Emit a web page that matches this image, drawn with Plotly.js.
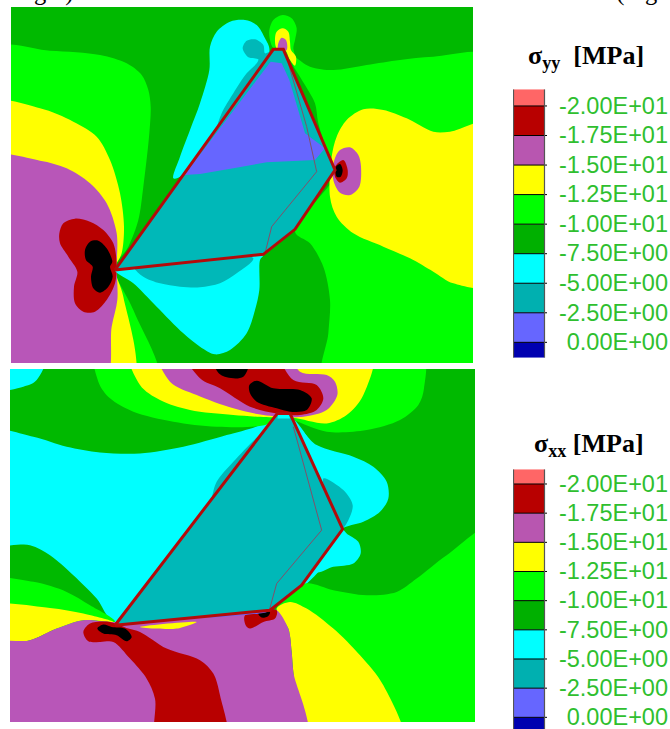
<!DOCTYPE html>
<html><head><meta charset="utf-8">
<script src="https://cdn.plot.ly/plotly-3.0.1.min.js"></script>
<style>html,body{margin:0;padding:0;background:#fff;overflow:hidden}</style>
</head><body><div id="c" style="width:670px;height:729px"></div>
<script>
const LIME='#00ff00',DARK='#00b900',YEL='#ffff00',PUR='#b856b8',RED='#b80000',BLK='#000000',CYA='#00ffff',TEAL='#00b8b8',BLUE='#6666ff';
// Panel 1: sigma_yy regions
const a_leftLime=[[33,150],[150,152],[300,165],[380,190],[425,225],[445,270],[452,320],[448,400],[430,560],[415,660],[385,740],[345,805],[400,930],[475,1089],[33,1089]];
const a_leftYel=[[33,312],[120,325],[220,365],[290,410],[330,480],[360,580],[372,680],[365,760],[345,805],[370,890],[395,1089],[33,1089]];
const a_leftPur=[[33,475],[120,482],[200,505],[270,550],[320,610],[350,700],[350,805],[352,900],[335,980],[310,1089],[33,1089]];
const a_leftRed=[[178,700],[190,670],[225,656],[270,665],[310,690],[340,730],[350,790],[345,850],[320,900],[285,935],[250,935],[225,910],[222,860],[232,815],[205,770],[180,730]];
const a_leftBlk=[[255,750],[270,725],[295,722],[320,745],[337,785],[330,800],[338,830],[325,860],[300,878],[280,865],[273,830],[278,800],[258,780]];
const a_rightLime=[[1419,175],[1300,170],[1200,180],[1100,195],[1000,210],[930,200],[885,170],[860,150],[870,180],[915,255],[945,310],[955,370],[990,480],[1008,520],[885,695],[930,730],[970,800],[990,900],[985,1000],[970,1089],[1419,1089]];
const a_topLime=[[808,90],[820,60],[848,45],[875,55],[890,85],[885,120],[880,145],[890,190],[860,170],[820,145],[810,120]];
const a_topYel=[[825,115],[830,95],[848,85],[865,95],[870,125],[873,150],[888,170],[885,197],[870,180],[855,150],[830,145]];
const a_topPur=[[835,130],[845,113],[858,120],[860,150],[835,150]];
const a_upCyan=[[630,140],[650,95],[690,65],[735,60],[770,75],[795,115],[808,155],[548,525],[520,535],[540,470],[570,390],[600,310],[628,210]];
const a_upTeal=[[728,145],[740,122],[765,118],[790,135],[795,160],[812,155],[650,390],[665,340],[700,280],[740,220],[770,190],[775,178],[745,172]];
const a_rightYel=[[990,590],[995,470],[1010,410],[1040,360],[1090,328],[1150,330],[1220,355],[1300,395],[1350,395],[1419,365],[1419,855],[1360,850],[1300,815],[1230,775],[1150,740],[1060,700],[1010,650]];
const a_rightPur=[[1003,480],[1020,450],[1050,442],[1075,465],[1083,500],[1078,560],[1050,585],[1020,578],[1000,540]];
const a_rightRed=[[1005,500],[1030,480],[1043,510],[1040,535],[1020,548],[1005,530]];
const a_rightBlk=[[1008,500],[1020,492],[1028,510],[1022,530],[1010,530]];
const a_lowCyan=[[345,810],[790,765],[780,780],[778,870],[765,930],[740,1000],[690,1050],[645,1063],[600,1040],[550,1000],[470,920],[400,850]];
const a_lowTeal=[[395,760],[400,800],[430,830],[480,850],[540,860],[600,862],[660,850],[710,820],[760,775]];
const a_body=[[345,810],[820,148],[850,148],[1005,510],[885,688],[790,763]];
const a_bodyBlue=[[553,525],[812,185],[845,190],[868,240],[915,400],[975,445],[945,480],[800,487],[700,505],[600,522]];
const a_inner=[[865,190],[920,380],[950,515],[815,680],[795,760]];
// Panel 2: sigma_xx regions
const b_cornerCyan=[[30,12],[145,12],[110,45],[70,65],[30,75]];
const b_midCyan=[[30,200],[100,215],[200,245],[300,262],[420,265],[550,245],[680,210],[780,180],[835,145],[880,160],[1030,490],[830,720],[345,770],[290,700],[220,630],[150,570],[90,540],[30,530]];
const b_rightCyan=[[885,180],[950,240],[1060,275],[1120,305],[1160,350],[1165,400],[1140,440],[1090,470],[1030,490],[1040,505],[1075,530],[1082,565],[1060,595],[1000,605],[945,620],[900,400]];
const b_rightTeal=[[970,340],[1030,375],[1058,420],[1045,465],[1025,490]];
const b_leftTeal=[[635,400],[650,350],[700,290],[780,210],[630,425]];
const b_llLime=[[30,645],[100,650],[200,680],[270,720],[345,770],[30,770]];
const b_llYel=[[30,725],[150,728],[250,745],[340,770],[250,765],[170,790],[90,825],[30,835]];
const b_rLime=[[1425,475],[1340,570],[1250,640],[1190,680],[1100,690],[1000,675],[915,655],[830,725],[1210,1070],[1425,1070]];
const b_rYel=[[830,730],[870,710],[920,730],[1000,790],[1080,870],[1150,960],[1210,1070],[915,1070],[880,920],[875,860],[865,790]];
const b_pur=[[30,840],[90,825],[170,790],[250,765],[340,770],[810,735],[830,735],[865,790],[875,860],[880,920],[915,1070],[30,1070]];
const b_red=[[250,800],[270,775],[330,770],[385,790],[420,800],[500,850],[600,885],[640,925],[660,990],[678,1070],[472,1070],[465,1000],[440,940],[390,880],[340,830],[300,830],[265,828]];
const b_blk=[[292,790],[310,778],[335,785],[375,790],[395,815],[380,828],[350,810],[310,805]];
const b_red2=[[735,750],[830,735],[825,760],[790,770],[750,790],[737,780]];
const b_blk2=[[775,745],[810,740],[805,752],[785,757]];
const b_yelSliver=[[420,785],[590,770],[530,790],[470,790]];
const b_blueSliver=[[625,755],[680,730],[740,730],[800,740]];
const b_topLime=[[290,12],[295,50],[330,100],[400,140],[520,170],[650,185],[800,178],[835,150],[880,165],[980,200],[1100,195],[1200,165],[1255,120],[1272,70],[1260,12]];
const b_topYel=[[388,12],[420,60],[480,105],[570,135],[700,150],[830,158],[880,158],[980,175],[1040,150],[1090,90],[1115,12]];
const b_topPur=[[470,12],[510,50],[590,90],[700,130],[790,150],[910,155],[980,135],[1012,90],[1005,50],[980,30],[900,20],[850,12]];
const b_topRed=[[545,12],[600,40],[660,70],[750,125],[830,145],[900,150],[950,135],[970,100],[950,60],[880,45],[800,12]];
const b_topBlk=[[630,12],[660,28],[730,35],[750,12]];
const b_topBlk2=[[748,60],[770,47],[820,70],[900,75],[935,100],[920,135],[870,140],[830,130],[770,110],[750,85]];
const b_body=[[345,780],[832,145],[870,145],[1028,492],[905,660],[810,735]];
const b_tip=[[835,145],[866,145],[870,160],[832,160]];
const b_inner=[[880,185],[965,495],[830,655],[808,735]];
// Scale bars
const tickValues=[-20,-17.5,-15,-12.5,-10,-7.5,-5,-2.5,0];
const tickLabels=['-2.00E+01','-1.75E+01','-1.50E+01','-1.25E+01','-1.00E+01','-7.50E+00','-5.00E+00','-2.50E+00','0.00E+00'];
const bandColors=['#ff6666','#b80000','#b856b0','#ffff00','#00ff00','#00b000','#00ffff','#00b0b0','#6666ff','#0000b0'];
const edges1=[-21.41,...tickValues,1.3];
const edges2=[-21.26,...tickValues,1.0];
const headline='e right) and a reduction in the stresses in the tail was observed (Fig.';
const title1='<b>σ<sub>yy</sub>\u00a0\u00a0[MPa]</b>', title2='<b>σ<sub>xx</sub> [MPa]</b>';

const W=670,H=729;
const dom=(a,b,t)=>t?[1-b/H,1-a/H]:[a/W,b/W];
const traces=[];
function poly(p,c,ax,ay,box,rect){
  const q=p.map(v=>rect?v:[v[0]<=box[0]?v[0]-70:v[0]>=box[1]?v[0]+70:v[0],v[1]<=box[2]?v[1]-70:v[1]>=box[3]?v[1]+70:v[1]]);
  traces.push({type:'scatter',mode:'lines',x:[...q.map(v=>v[0]),q[0][0]],y:[...q.map(v=>v[1]),q[0][1]],fill:'toself',fillcolor:c,line:{width:0,color:c,shape:rect?'linear':'spline',smoothing:0.9},xaxis:ax,yaxis:ay,hoverinfo:'skip',showlegend:false});}
function line(p,c,w,ax,ay,close){const q=close?[...p,p[0]]:p;traces.push({type:'scatter',mode:'lines',x:q.map(v=>v[0]),y:q.map(v=>v[1]),line:{color:c,width:w},xaxis:ax,yaxis:ay,hoverinfo:'skip',showlegend:false});}
const box1=[33,1419,21,1089],box2=[30,1425,12,1070];
const L1=[[a_leftLime,LIME],[a_rightLime,LIME],[a_topLime,LIME],[a_topYel,YEL],[a_topPur,PUR],[a_leftYel,YEL],[a_leftPur,PUR],[a_leftRed,RED],[a_leftBlk,BLK],[a_upCyan,CYA],[a_upTeal,TEAL],[a_rightYel,YEL],[a_rightPur,PUR],[a_rightRed,RED],[a_rightBlk,BLK],[a_lowCyan,CYA],[a_lowTeal,TEAL]];
poly([[33,21],[1419,21],[1419,1089],[33,1089]],DARK,'x','y',box1,true);
L1.forEach(l=>poly(l[0],l[1],'x','y',box1));
poly(a_body,TEAL,'x','y',box1,true);poly(a_bodyBlue,BLUE,'x','y',box1,true);
line(a_inner,'#80506a',1,'x','y');
line(a_body,'#b40a0a',3,'x','y',true);
const L2=[[b_cornerCyan,CYA],[b_midCyan,CYA],[b_rightCyan,CYA],[b_rightTeal,TEAL],[b_leftTeal,TEAL],[b_llLime,LIME],[b_llYel,YEL],[b_rLime,LIME],[b_rYel,YEL],[b_pur,PUR],[b_red,RED],[b_blk,BLK],[b_red2,RED],[b_blk2,BLK],[b_yelSliver,YEL],[b_blueSliver,BLUE],[b_topLime,LIME],[b_topYel,YEL],[b_topPur,PUR],[b_topRed,RED],[b_topBlk,BLK],[b_topBlk2,BLK]];
poly([[30,12],[1425,12],[1425,1070],[30,1070]],DARK,'x2','y2',box2,true);
L2.forEach(l=>poly(l[0],l[1],'x2','y2',box2));
poly(b_body,TEAL,'x2','y2',box2,true);poly(b_tip,CYA,'x2','y2',box2,true);
line(b_inner,'#80506a',1,'x2','y2');
line(b_body,'#b40a0a',3,'x2','y2',true);
function scale(edges,ax,ay){
  edges.slice(0,-1).forEach((e,i)=>traces.push({type:'bar',x:[16],y:[edges[i+1]-e],base:[e],width:[31],marker:{color:bandColors[i],line:{width:0}},xaxis:ax,yaxis:ay,hoverinfo:'skip',showlegend:false}));
  const sx=[],sy=[];tickValues.forEach(v=>{sx.push(0,34,null);sy.push(v,v,null);});
  traces.push({type:'scatter',mode:'lines',x:sx,y:sy,line:{color:'#000',width:1},xaxis:ax,yaxis:ay,hoverinfo:'skip',showlegend:false});
  const lo=edges[0],hi=edges[edges.length-1];
  traces.push({type:'scatter',mode:'lines',x:[0.5,0.5,null,31.5,31.5],y:[lo,hi,null,lo,hi],line:{color:'#555',width:1.2},xaxis:ax,yaxis:ay,hoverinfo:'skip',showlegend:false});
  traces.push({type:'scatter',mode:'text',x:tickValues.map(()=>155),y:tickValues.map(v=>v+0.16),text:tickLabels,textposition:'middle left',textfont:{family:'"Liberation Sans",Arial,sans-serif',size:23.5,color:'#2fbf2f'},cliponaxis:false,xaxis:ax,yaxis:ay,hoverinfo:'skip',showlegend:false});
}
scale(edges1,'x3','y3');scale(edges2,'x4','y4');
const ax=(r,d,a)=>({range:r,domain:d,anchor:a,visible:false,fixedrange:true});
const layout={width:W,height:H,margin:{l:0,r:0,t:0,b:0},paper_bgcolor:'#fff',plot_bgcolor:'rgba(0,0,0,0)',showlegend:false,barmode:'overlay',
 xaxis:ax([33,1419],dom(11,473),'y'),yaxis:ax([1089,21],dom(7,363,true),'x'),
 xaxis2:ax([30,1425],dom(10,475),'y2'),yaxis2:ax([1070,12],dom(369,722,true),'x2'),
 xaxis3:ax([0,157],dom(513,670),'y3'),yaxis3:ax([edges1[edges1.length-1],edges1[0]],dom(89.3,357.7,true),'x3'),
 xaxis4:ax([0,157],dom(513,670),'y4'),yaxis4:ax([edges2[edges2.length-1],edges2[0]],dom(469.3,729,true),'x4'),
 annotations:[
  {text:headline,xref:'paper',yref:'paper',x:0,y:1,xanchor:'left',yanchor:'bottom',yshift:-8.5,showarrow:false,align:'left',font:{family:'"Liberation Serif",serif',size:24.5,color:'#000'}},
  {text:title1,xref:'paper',yref:'paper',x:585.5/W,y:1-57/H,xanchor:'center',yanchor:'middle',showarrow:false,font:{family:'"Liberation Serif",serif',size:26,color:'#000'}},
  {text:title2,xref:'paper',yref:'paper',x:588.5/W,y:1-445/H,xanchor:'center',yanchor:'middle',showarrow:false,font:{family:'"Liberation Serif",serif',size:26,color:'#000'}}
 ]};
Plotly.newPlot('c',traces,layout,{displayModeBar:false,staticPlot:true});
</script></body></html>
